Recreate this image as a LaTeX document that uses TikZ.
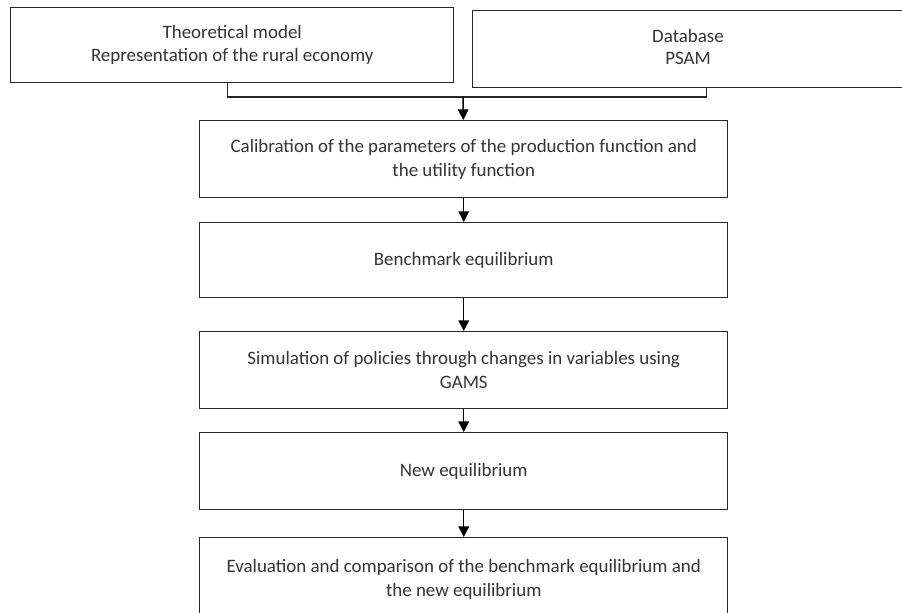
\documentclass[tikz,border=0pt]{standalone}
\usepackage{fontspec}
\setmainfont{Carlito}
\usetikzlibrary{arrows.meta}

\begin{document}
\begin{tikzpicture}[x=0.75pt,y=-0.75pt,line width=1.1pt,
  box/.style={draw=black!85,rectangle,anchor=north west,inner sep=0pt,
    minimum width=396pt,minimum height=57.5pt,align=center,text=black!80,
    font=\fontsize{14.2}{18}\selectfont},
  txt/.style={align=center,text=black!80,font=\fontsize{14.2}{17}\selectfont},
  arr/.style={draw=black,-{Triangle[width=8pt,length=8pt]}}]
\useasboundingbox(0,0)rectangle(902,612);
\node[box,minimum width=332.25pt,minimum height=56.25pt,font=\fontsize{14.2}{17}\selectfont](theory)at(10,7){Theoretical model\\Representation of the rural economy};
\node[box,minimum width=351pt](data)at(472,10){};
\node[txt](datatext)at(688,47){Database\\PSAM};
\node[box](calib)at(199,120){Calibration of the parameters of the production function and\\the utility function};
\node[box,minimum height=56.25pt](bench)at(199,222){Benchmark equilibrium};
\node[box](simul)at(199,331){Simulation of policies through changes in variables using\\GAMS};
\node[box](neweq)at(199,432){New equilibrium};
\node[box,minimum height=62pt](eval)at(199,537){Evaluation and comparison of the benchmark equilibrium and\\the new equilibrium};
\coordinate(join)at(463,97);
\draw[black!85](theory.south)++(-5,0)|-(join)-|(data.south);
\draw[arr](join)--(calib);
\draw[arr](calib)--(bench);
\draw[arr](bench)--(simul);
\draw[arr](simul)--(neweq);
\draw[arr](neweq)--(eval);
\end{tikzpicture}
\end{document}
